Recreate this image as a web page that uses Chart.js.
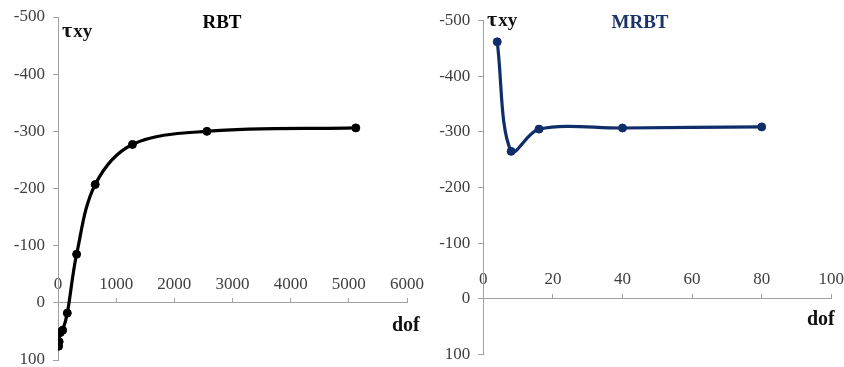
<!DOCTYPE html>
<html>
<head>
<meta charset="utf-8">
<script src="https://cdn.jsdelivr.net/npm/chart.js@4.4.1/dist/chart.umd.min.js"></script>
<style>
  html, body { margin: 0; padding: 0; background: #fff; }
  #wrap { position: relative; width: 844px; height: 367px; }
  canvas { position: absolute; top: 0; }
  #rbt { left: 0; }
  #mrbt { left: 424px; }
</style>
</head>
<body>
<div id="wrap">
  <canvas id="rbt" width="424" height="367"></canvas>
  <canvas id="mrbt" width="420" height="367"></canvas>
</div>
<script>
// --- data ---
const rbtDof = [10, 20, 40, 80, 160, 320, 640, 1280, 2560, 5120];
const rbtTau = [76, 68, 52, 48, 18, -85, -207, -277, -300, -306];

const mrbtDof = [4, 8, 16, 40, 80];
const mrbtTau = [-462, -265, -305, -307, -309];

const rbtXTicks = [0, 1000, 2000, 3000, 4000, 5000, 6000];
const mrbtXTicks = [0, 20, 40, 60, 80, 100];
const tauTicks = [-500, -400, -300, -200, -100, 0, 100];

const SERIF = '"Liberation Serif", "Times New Roman", serif';
const AXIS_GREY = '#a0a0a0';
const TICK_TEXT = '#404040';

// text around the plot: title, tau label, dof label
function labelsPlugin(cfg) {
  return {
    id: 'labels',
    afterDraw(chart) {
      const ctx = chart.ctx;
      ctx.save();
      ctx.textBaseline = 'alphabetic';

      ctx.fillStyle = cfg.titleColor;
      ctx.font = 'bold 19px ' + SERIF;
      ctx.textAlign = 'center';
      ctx.fillText(cfg.title, cfg.titleX, cfg.titleY);

      ctx.fillStyle = '#111';
      ctx.textAlign = 'left';
      ctx.font = 'bold 22px ' + SERIF;
      ctx.fillText('τ', cfg.tauX, cfg.tauY);
      const w = ctx.measureText('τ').width;
      ctx.font = 'bold 19px ' + SERIF;
      ctx.fillText('xy', cfg.tauX + w + 1, cfg.tauY);

      ctx.font = 'bold 20px ' + SERIF;
      ctx.fillText('dof', cfg.dofX, cfg.dofY);
      ctx.restore();
    }
  };
}

function buildChart(id, dof, tau, xTicks, xMax, color, yWidth, padding, labels) {
  const ctx = document.getElementById(id).getContext('2d');
  return new Chart(ctx, {
    type: 'line',
    data: {
      datasets: [{
        data: dof.map((d, i) => ({ x: d, y: tau[i] })),
        borderColor: color,
        backgroundColor: color,
        borderWidth: 3.2,
        pointRadius: 4,
        pointBorderWidth: 1,
        pointBackgroundColor: color,
        pointBorderColor: color,
        tension: 0.35,
        fill: false
      }]
    },
    options: {
      responsive: false,
      animation: false,
      layout: { padding: padding },
      plugins: {
        legend: { display: false },
        tooltip: { enabled: false }
      },
      scales: {
        x: {
          type: 'linear',
          position: { y: 0 },
          min: 0,
          max: xMax,
          afterBuildTicks: s => { s.ticks = xTicks.map(v => ({ value: v })); },
          afterFit: s => { s.paddingLeft = 0; s.paddingRight = 0; },
          grid: { drawOnChartArea: false, tickLength: -5, color: AXIS_GREY },
          border: { color: AXIS_GREY, width: 1 },
          ticks: {
            padding: -24,
            maxRotation: 0,
            autoSkip: false,
            color: TICK_TEXT,
            font: { family: SERIF, size: 17 },
            callback: v => String(v)
          }
        },
        y: {
          type: 'linear',
          position: 'left',
          reverse: true,
          min: -500,
          max: 100,
          afterBuildTicks: s => { s.ticks = tauTicks.map(v => ({ value: v })); },
          afterFit: s => { s.width = yWidth; s.paddingTop = 0; s.paddingBottom = 0; },
          grid: { drawOnChartArea: false, tickLength: 5, color: AXIS_GREY },
          border: { color: AXIS_GREY, width: 1 },
          ticks: {
            padding: 8,
            color: TICK_TEXT,
            font: { family: SERIF, size: 17 },
            callback: v => String(v)
          }
        }
      }
    },
    plugins: [labelsPlugin(labels)]
  });
}

buildChart('rbt', rbtDof, rbtTau, rbtXTicks, 6000, '#000000', 58,
  { left: 0, top: 17, right: 17, bottom: 7 },
  { title: 'RBT', titleColor: '#000', titleX: 222, titleY: 28, tauX: 62, tauY: 37, dofX: 392, dofY: 331 });

buildChart('mrbt', mrbtDof, mrbtTau, mrbtXTicks, 100, '#0f2d69', 59.3,
  { left: 0, top: 20.7, right: 12.7, bottom: 12.7 },
  { title: 'MRBT', titleColor: '#1b3466', titleX: 216, titleY: 28, tauX: 63, tauY: 26, dofX: 383, dofY: 325 });
</script>
</body>
</html>
